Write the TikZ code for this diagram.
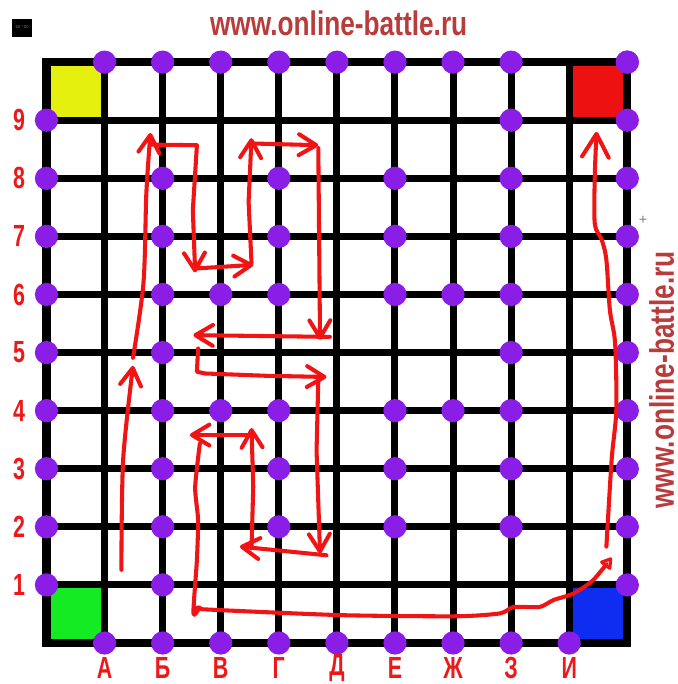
\documentclass[tikz,border=0pt]{standalone}
\usepackage{fontspec}
\setmainfont{Liberation Sans}
\newfontfamily\boardfont[FakeStretch=0.7]{Liberation Sans}
\newfontfamily\sitefont[FakeStretch=0.77]{Liberation Sans}
\usetikzlibrary{arrows.meta}
\definecolor{dotPurple}{RGB}{138,30,230}
\definecolor{cellYellow}{RGB}{230,240,15}
\definecolor{cellGreen}{RGB}{20,235,35}
\definecolor{cellRed}{RGB}{238,17,17}
\definecolor{cellBlue}{RGB}{15,45,240}
\definecolor{labelRed}{RGB}{235,25,25}
\definecolor{siteRed}{RGB}{185,60,60}
\definecolor{pathRed}{RGB}{240,20,20}

\begin{document}
\begin{tikzpicture}[x=1cm, y=1cm,
    gridline/.style={line width=0.12cm},
    move/.style={pathRed, line width=0.07cm, line cap=round, line join=round, -{Straight Barb[round, length=3mm, width=3.6mm]}},
    coordlabel/.style={labelRed, inner sep=0, font=\boardfont\bfseries\fontsize{15}{15}\selectfont},
    sitelabel/.style={siteRed, inner sep=0, font=\sitefont\bfseries\fontsize{16.7}{17}\selectfont, anchor=base}]
    \useasboundingbox (-0.8,-0.706) rectangle (10.87,11.07);
    \fill[cellYellow] (0,9) rectangle (1,10);
    \fill[cellRed] (9,9) rectangle (10,10);
    \fill[cellGreen] (0,0) rectangle (1,1);
    \fill[cellBlue] (9,0) rectangle (10,1);
    \draw[gridline] (0,0) grid (10,10);
    \draw[line width=0.14cm] (0,0) rectangle (10,10);
    \foreach \x in {1,...,8,10} \fill[dotPurple] (\x,10) circle (0.2);
    \foreach \x in {1,...,9} \fill[dotPurple] (\x,0) circle (0.2);
    \foreach \y in {1,...,9} \fill[dotPurple] (0,\y) circle (0.2);
    \foreach \y in {1,...,10} \fill[dotPurple] (10,\y) circle (0.2);
    \foreach \y in {1,...,8} \fill[dotPurple] (2,\y) circle (0.2);
    \foreach \y in {2,...,9} \fill[dotPurple] (8,\y) circle (0.2);
    \foreach \y in {2,3,4,6,7,8} {
        \fill[dotPurple] (4,\y) circle (0.2);
        \fill[dotPurple] (6,\y) circle (0.2);
    }
    \foreach \y in {4,6} {
        \fill[dotPurple] (3,\y) circle (0.2);
        \fill[dotPurple] (7,\y) circle (0.2);
    }
    \foreach \y in {1,...,9} {
        \node[coordlabel] (row\y) at (-0.47,\y) {\y};
    }
    \foreach \l [count=\i] in {А,Б,В,Г,Д,Е,Ж,З,И} {
        \node[coordlabel] (col\i) at (\i,-0.43) {\l};
    }
    \node[sitelabel] (siteTop) at (5.03,10.46) {www.online-battle.ru};
    \node[sitelabel, rotate=90] (siteSide) at (10.80,4.53) {www.online-battle.ru};
    \fill (-0.59,10.44) rectangle (-0.25,10.75);
    \node[gray, font=\fontsize{2}{2}\selectfont, inner sep=0] (sizeTag) at (-0.42,10.6) {50 * 50};
    \node[gray, font=\fontsize{7}{7}\selectfont, inner sep=0] (crossMark) at (10.27,7.28) {+};
    \draw[move] plot[smooth] coordinates {(1.29,1.26) (1.32,3.15) (1.49,4.77)};
    \draw[move] plot[smooth] coordinates {(1.49,4.91) (1.67,6.20) (1.72,7.75) (1.79,8.78)};
    \draw[move] (1.78,8.58) -- (2.59,8.57) -- (2.52,7.45) -- (2.56,6.38);
    \draw[move] (2.61,6.45) -- (3.56,6.51);
    \draw[move] (3.53,6.54) -- (3.48,7.6) -- (3.53,8.69);
    \draw[move] (3.53,8.60) -- (4.68,8.57);
    \draw[move] (4.68,8.52) -- (4.71,5.22);
    \draw[move] (4.88,5.27) -- (2.53,5.30);
    \draw[move] (2.61,5.07) -- (2.59,4.67) -- (2.73,4.64) -- (3.79,4.60) -- (4.82,4.58);
    \draw[move] (4.68,4.53) -- (4.65,3.31) -- (4.71,1.54);
    \draw[move] (4.82,1.51) -- (3.33,1.66);
    \draw[move] (3.53,1.63) -- (3.56,2.69) -- (3.53,3.70);
    \draw[move] (3.53,3.58) -- (2.47,3.58);
    \draw[move, -{Triangle[open, round, length=2.2mm, width=2.6mm]}] plot[smooth, tension=0.4] coordinates {(2.64,3.43) (2.56,2.68) (2.61,2.12) (2.59,1.43) (2.53,0.51) (2.64,0.61) (2.70,0.58) (5.05,0.48) (7.06,0.46) (7.81,0.51) (8.04,0.62) (8.49,0.62) (8.73,0.74) (9.07,0.85) (9.41,1.08) (9.73,1.47)};
    \draw[move, -{Straight Barb[round, length=4mm, width=4.6mm]}] plot[smooth] coordinates {(9.64,1.66) (9.73,3.15) (9.81,4.01) (9.79,5.16) (9.70,5.73) (9.64,6.59) (9.56,6.94) (9.44,7.22) (9.44,8.03) (9.47,8.80)};
\end{tikzpicture}
\end{document}
